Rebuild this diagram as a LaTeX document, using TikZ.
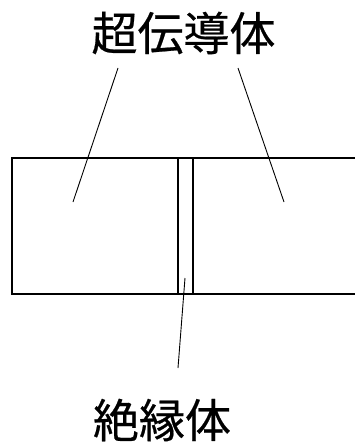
\documentclass[tikz,border=0pt]{standalone}
\usepackage{fontspec}
\usepackage{tikz}
\usetikzlibrary{positioning}
\newfontfamily\cjk[FakeBold=0.5]{Noto Sans CJK JP}

\begin{document}
\begin{tikzpicture}[
  x=1pt,y=-1pt,
  block/.style={draw=black,line width=1.3pt,inner sep=0pt,outer sep=0pt,minimum height=136pt},
  leader/.style={draw=black,line width=0.9pt},
  tag/.style={font=\cjk\fontsize{46}{50}\selectfont,inner sep=0pt}
]
\useasboundingbox (0,0) rectangle (355,444);
\clip (0,0) rectangle (355,444);
\node[block,minimum width=166pt] (left) at (95,226) {};
\node[block,minimum width=15pt] (gap) at (185.5,226) {};
\node[block,minimum width=177pt] (right) at (281.5,226) {};
\node[tag] (sc) at (183.5,33) {超伝導体};
\node[tag] (ins) at (162,420) {絶縁体};
\coordinate (scl) at (118,68);
\coordinate (scr) at (238,68);
\coordinate (insl) at (178,368);
\coordinate (lp) at (73,202);
\coordinate (rp) at (284,202);
\coordinate (gp) at (185,278);
\draw[leader] (scl) -- (lp);
\draw[leader] (scr) -- (rp);
\draw[leader] (insl) -- (gp);
\end{tikzpicture}
\end{document}
